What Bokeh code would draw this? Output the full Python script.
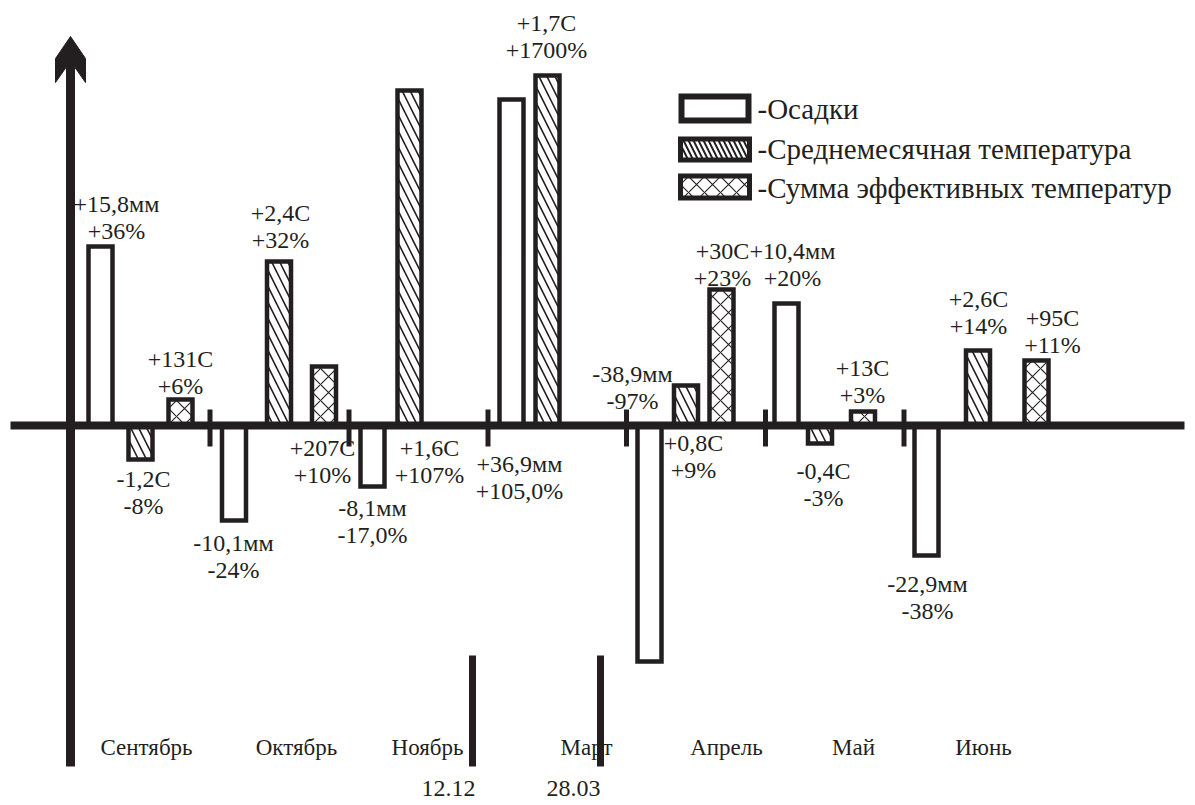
from bokeh.plotting import figure
from bokeh.models import Range1d
from bokeh.embed import file_html
from bokeh.resources import INLINE

# ---------------- data (bar heights in chart units; labels as printed) ----------------
months = ["Сентябрь", "Октябрь", "Ноябрь", "Март", "Апрель", "Май", "Июнь"]
precip = [179, -95, -61, 326, -236, 122, -130]          # Осадки
temp = [-34, 164, 335, 350, 40, -18, 75]               # Среднемесячная температура
gdd = [26, 59, None, None, 136, 14, 65]                 # Сумма эффективных температур

precip_lbl = ["+15,8мм", "-10,1мм", "-8,1мм", "+36,9мм", "-38,9мм", "+10,4мм", "-22,9мм"]
precip_pct = ["+36%", "-24%", "-17,0%", "+105,0%", "-97%", "+20%", "-38%"]
temp_lbl = ["-1,2C", "+2,4C", "+1,6C", "+1,7C", "+0,8C", "-0,4C", "+2,6C"]
temp_pct = ["-8%", "+32%", "+107%", "+1700%", "+9%", "-3%", "+14%"]
gdd_lbl = ["+131C", "+207C", None, None, "+30C", "+13C", "+95C"]
gdd_pct = ["+6%", "+10%", None, None, "+23%", "+3%", "+11%"]

legend_names = ["-Осадки", "-Среднемесячная температура", "-Сумма эффективных температур"]
period_marks = ["12.12", "28.03"]

# ---------------- layout (screen-like positions) ----------------
AXIS_Y = 425
def sy(v):
    return AXIS_Y - v

precip_x = [100, 233.5, 372, 511, 649, 786, 926]
temp_x = [140, 278.5, 409, 547, 685.5, 819.5, 977.5]
gdd_x = [180, 323.5, None, None, 721, 862.5, 1036]

precip_lpos = [(116, 203), (233, 542), (372, 507), (519, 463), (632, 373), (792, 250), (927, 583)]
temp_lpos = [(143, 478), (280, 212), (429, 447), (546, 22), (693, 442), (823, 470), (978, 298)]
gdd_lpos = [(180, 358), (322, 447), None, None, (722, 250), (862, 367), (1052, 317)]
LINE_GAP = 27

month_x = [146, 296, 427, 586, 726, 853, 983]
month_y = 747
tick_x = [209.5, 348.5, 487.5, 626, 765, 903.5]
sep_x = [472, 600]
mark_x = [448, 573]

INK = "#231f20"
FONT = "Liberation Serif"
BAR_W = 24
BAR_LW = 4.5
W, H = 1190, 800

p = figure(width=W, height=H, x_range=Range1d(0, W), y_range=Range1d(sy(H), sy(0)),
           output_backend="svg", toolbar_location=None, x_axis_type=None, y_axis_type=None,
           min_border=0, outline_line_color=None, title=None, background_fill_color="white",
           border_fill_color="white")

# bars
p.vbar(x=precip_x, top=precip, bottom=0, width=BAR_W, fill_color="white",
       line_color=INK, line_width=BAR_LW, line_join="miter")
p.vbar(x=temp_x, top=temp, bottom=0, width=BAR_W, fill_color="white",
       line_color=INK, line_width=BAR_LW, line_join="miter",
       hatch_pattern="left_diagonal_line", hatch_scale=16, hatch_weight=1.6, hatch_color=INK)
gx = [x for x, v in zip(gdd_x, gdd) if v is not None]
gv = [v for v in gdd if v is not None]
p.vbar(x=gx, top=gv, bottom=0, width=BAR_W, fill_color="white",
       line_color=INK, line_width=BAR_LW, line_join="miter",
       hatch_pattern="diagonal_cross", hatch_scale=16, hatch_weight=1.1, hatch_color=INK)

# horizontal axis
p.quad(left=[10], right=[1184], top=[4], bottom=[-4], fill_color=INK, line_color=None)
# month divider ticks
p.quad(left=[x - 2.5 for x in tick_x], right=[x + 2.5 for x in tick_x],
       top=[sy(409)] * len(tick_x), bottom=[sy(446)] * len(tick_x), fill_color=INK, line_color=None)

# vertical axis with arrow
p.quad(left=[65.5], right=[74.5], top=[sy(60)], bottom=[sy(766)], fill_color=INK, line_color=None)
p.patch(x=[70, 85, 85, 74.5, 65.5, 55, 55], y=[sy(36), sy(58), sy(82), sy(67), sy(67), sy(82), sy(58)],
        fill_color=INK, line_color=INK, line_width=1)

# value labels
def put_labels(l1, l2, pos):
    xs, ys, ts = [], [], []
    for a, b, ps in zip(l1, l2, pos):
        if a is None:
            continue
        xs += [ps[0], ps[0]]
        ys += [sy(ps[1]), sy(ps[1] + LINE_GAP)]
        ts += [a, b]
    p.text(x=xs, y=ys, text=ts, text_align="center", text_baseline="middle",
           text_font=FONT, text_font_size="24px", text_color=INK)

put_labels(precip_lbl, precip_pct, precip_lpos)
put_labels(temp_lbl, temp_pct, temp_lpos)
put_labels(gdd_lbl, gdd_pct, gdd_lpos)

# month labels
p.text(x=month_x, y=[sy(month_y)] * len(months), text=months, text_align="center",
       text_baseline="middle", text_font=FONT, text_font_size="23px", text_color=INK)
# period separators and dates
p.quad(left=[x - 3.5 for x in sep_x], right=[x + 3.5 for x in sep_x],
       top=[sy(655)] * 2, bottom=[sy(766)] * 2, fill_color=INK, line_color=None)
p.text(x=mark_x, y=[sy(788)] * 2, text=period_marks, text_align="center", text_baseline="middle",
       text_font=FONT, text_font_size="24px", text_color=INK)

# legend
p.quad(left=[681], right=[748], top=[sy(96)], bottom=[sy(120)], fill_color="white",
       line_color=INK, line_width=6, line_join="miter")
p.quad(left=[680], right=[749], top=[sy(138.5)], bottom=[sy(159.5)], fill_color="white",
       line_color=INK, line_width=5, line_join="miter",
       hatch_pattern="left_diagonal_line", hatch_scale=10, hatch_weight=2, hatch_color=INK)
p.quad(left=[680], right=[749], top=[sy(175.5)], bottom=[sy(197.5)], fill_color="white",
       line_color=INK, line_width=5, line_join="miter",
       hatch_pattern="diagonal_cross", hatch_scale=16, hatch_weight=1.1, hatch_color=INK)
p.text(x=[757] * 3, y=[sy(108), sy(148), sy(187)], text=legend_names, text_align="left",
       text_baseline="middle", text_font=FONT, text_font_size="29px", text_color=INK)

open("out.html", "w").write(file_html(p, INLINE))
